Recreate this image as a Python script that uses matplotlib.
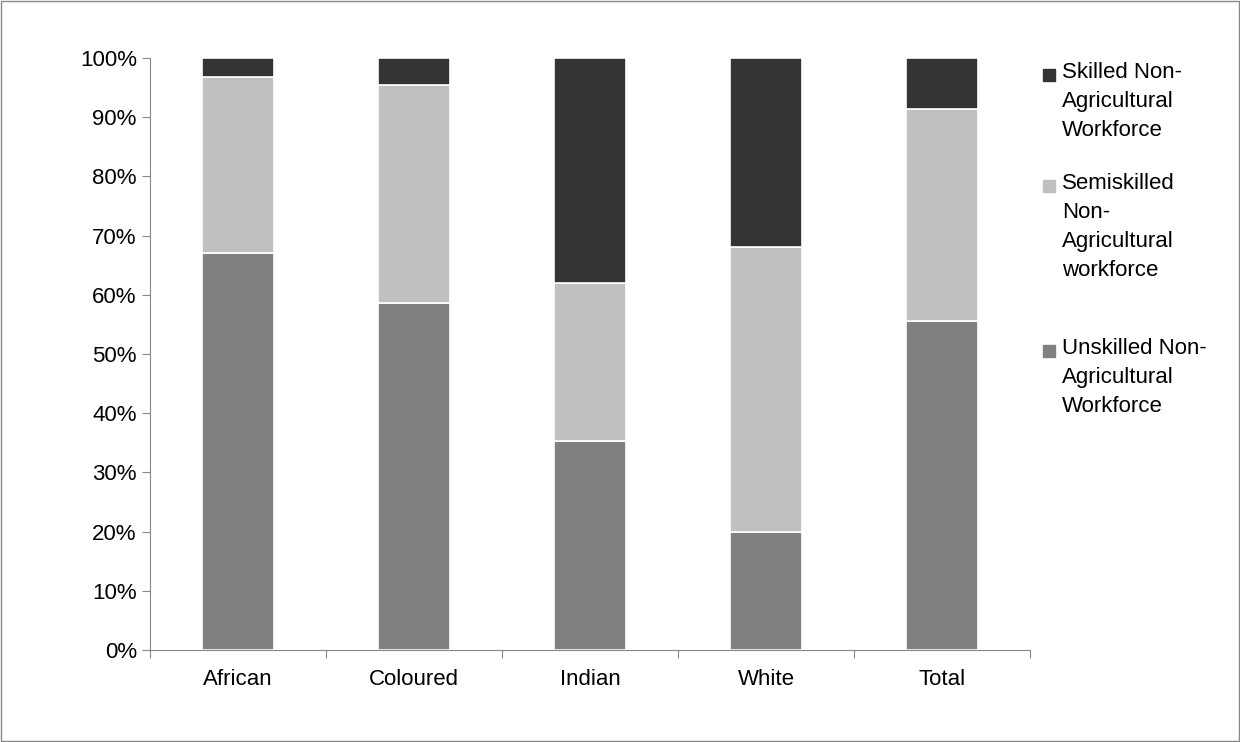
import numpy as np
import matplotlib.pyplot as plt
from matplotlib.ticker import PercentFormatter

plt.rcParams['font.family'] = ['Liberation Sans', 'DejaVu Sans']

groups = ['African', 'Coloured', 'Indian', 'White', 'Total']
unskilled = [67.1, 58.6, 35.3, 20.0, 55.6]
semiskilled = [29.7, 36.9, 26.7, 48.1, 35.8]
skilled = [3.2, 4.5, 38.0, 31.9, 8.6]

W, H = 1240, 742
fig = plt.figure(figsize=(W / 100, H / 100), dpi=100)
ax = fig.add_axes([150 / W, 1 - 650 / H, 880 / W, 592 / H])
x = np.arange(len(groups))
w = 0.41
b1 = ax.bar(x, unskilled, w, color='#808080', edgecolor='white', linewidth=1.2)
b2 = ax.bar(x, semiskilled, w, bottom=unskilled, color='#c0c0c0', edgecolor='white',
            linewidth=1.2)
bot = np.array(unskilled) + np.array(semiskilled)
b3 = ax.bar(x, skilled, w, bottom=bot, color='#333333', edgecolor='white',
            linewidth=1.2)

ax.set_ylim(0, 100)
ax.set_xlim(-0.5, 4.5)
ax.set_yticks(np.arange(0, 101, 10))
ax.yaxis.set_major_formatter(PercentFormatter(decimals=0))
ax.set_xticks(np.arange(-0.5, 5, 1))
ax.set_xticklabels([])
ax.set_xticks(x, minor=True)
ax.set_xticklabels(groups, minor=True)
ax.tick_params(axis='x', which='minor', length=0, labelsize=16, pad=14)
ax.tick_params(axis='x', which='major', length=6, color='#888888')
ax.tick_params(axis='y', labelsize=16, length=6, color='#888888')
for s in ['top', 'right']:
    ax.spines[s].set_visible(False)
ax.spines['left'].set_color('#888888')
ax.spines['bottom'].set_color('#888888')

# legend drawn by hand to match the wrapped labels
legend_items = [
    ('Skilled Non-\nAgricultural\nWorkforce', '#333333', 62),
    ('Semiskilled\nNon-\nAgricultural\nworkforce', '#c0c0c0', 173),
    ('Unskilled Non-\nAgricultural\nWorkforce', '#808080', 338),
]
for label, col, ytop in legend_items:
    fig.patches.append(plt.Rectangle((1043 / W, 1 - (ytop + 19) / H), 12 / W, 12 / H,
                                     transform=fig.transFigure, color=col))
    fig.text(1062 / W, 1 - ytop / H, label, fontsize=16, va='top', ha='left',
             linespacing=1.5)

fig.patches.append(plt.Rectangle((0.001, 0.001), 0.998, 0.998, transform=fig.transFigure,
                                 fill=False, edgecolor='#888888', linewidth=1))
fig.savefig('out.png')
